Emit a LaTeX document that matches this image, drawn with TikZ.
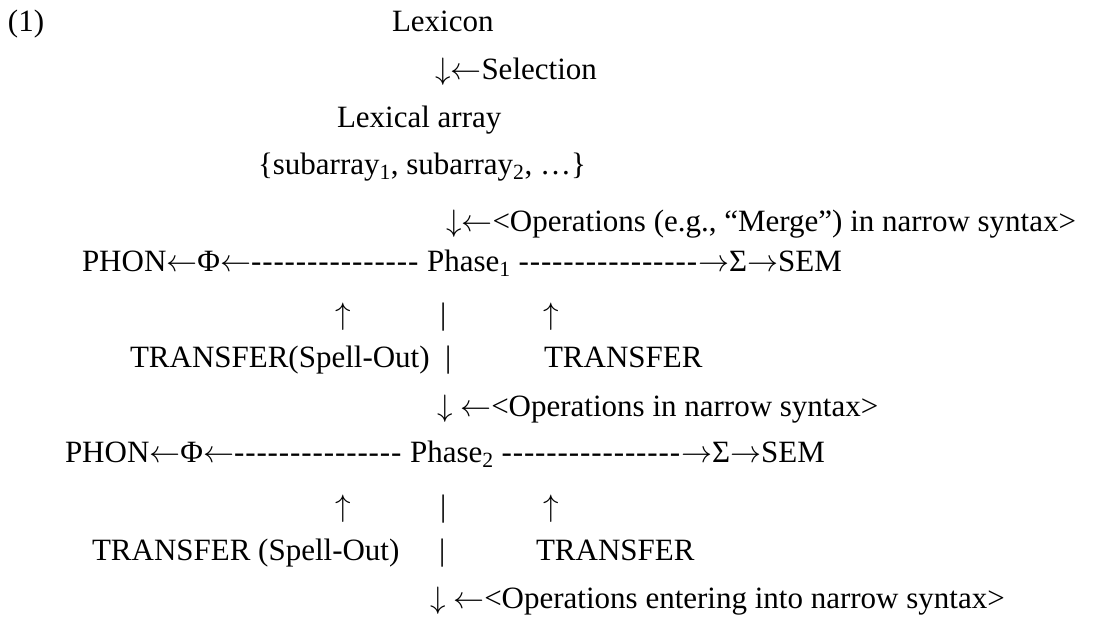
\RequirePackage{fix-cm}
\documentclass[tikz,border=0pt]{standalone}
\usepackage{fontspec}
\setmainfont{Liberation Serif}[Ligatures=TeXOff]
\newcommand{\la}{\ensuremath{\leftarrow}}
\newcommand{\ra}{\ensuremath{\rightarrow}}
\newcommand{\da}{\ensuremath{\downarrow}}
\newcommand{\ua}{\ensuremath{\uparrow}}
\newcommand{\dashrun}[1]{\foreach \i in {1,...,#1}{-\kern0.9pt}}
\begin{document}
\begin{tikzpicture}[x=1pt,y=-1pt,
  txt/.style={anchor=base west,inner sep=0pt,outer sep=0pt,font=\fontsize{31}{37}\selectfont}]
\useasboundingbox[fill=white] (0,0) rectangle (1101,617);
\node[txt] (num) at (8,32) {(1)};
\node[txt] (lex) at (392,32) {Lexicon};
\node[txt] (sel) at (435,80) {\da\la Selection};
\node[txt] (arr) at (337,128) {Lexical array};
\node[txt] (sub) at (258,175) {\{subarray\textsubscript{1}, subarray\textsubscript{2}, …\}};
\node[txt] (op1) at (446,232) {\da\la<Operations (e.g., “Merge”) in narrow syntax>};
\node[txt] (ph1) at (82,272) {PHON\la Φ\la\dashrun{15} Phase\textsubscript{1} \dashrun{16}\ra Σ\ra SEM};
\node[txt] (ua1) at (335,325) {\ua};
\node[txt] (bar1) at (440,325) {|};
\node[txt] (ub1) at (543,325) {\ua};
\node[txt] (tso1) at (130,368) {TRANSFER(Spell-Out)};
\node[txt] (bar2) at (445,368) {|};
\node[txt] (tr1) at (544,368) {TRANSFER};
\node[txt] (op2) at (437,417) {\da{} \la<Operations in narrow syntax>};
\node[txt] (ph2) at (65,463) {PHON\la Φ\la\dashrun{15} Phase\textsubscript{2} \dashrun{16}\ra Σ\ra SEM};
\node[txt] (ua2) at (335,517) {\ua};
\node[txt] (bar3) at (440,517) {|};
\node[txt] (ub2) at (543,517) {\ua};
\node[txt] (tso2) at (92,560) {TRANSFER (Spell-Out)};
\node[txt] (bar4) at (439,560) {|};
\node[txt] (tr2) at (536,560) {TRANSFER};
\node[txt] (op3) at (430,608) {\da{} \la<Operations entering into narrow syntax>};
\end{tikzpicture}
\end{document}
